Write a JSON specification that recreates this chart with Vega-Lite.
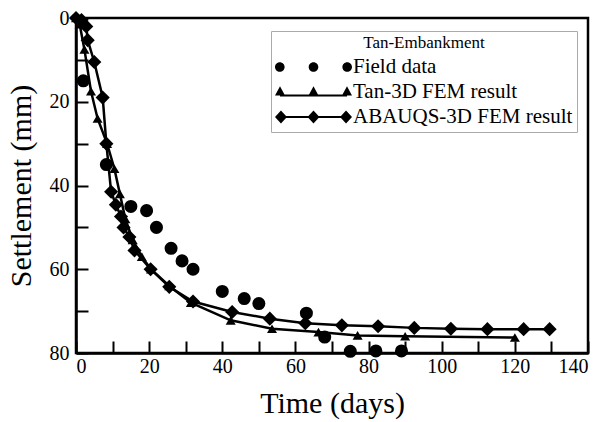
{
  "$schema": "https://vega.github.io/schema/vega-lite/v6.json",
  "width": 512,
  "height": 335,
  "autosize": {"type": "none"},
  "padding": {"left": 76, "top": 18, "right": 18, "bottom": 69},
  "background": "white",
  "config": {
    "font": "Liberation Serif",
    "view": {"stroke": "black", "strokeWidth": 2.5},
    "axis": {
      "domainColor": "black",
      "domainWidth": 2.5,
      "grid": false,
      "labelFont": "Liberation Serif",
      "labelFontSize": 20,
      "labelColor": "black",
      "titleFont": "Liberation Serif",
      "titleFontSize": 30,
      "titleFontWeight": "normal",
      "titleColor": "black"
    }
  },
  "data": {
    "values": [
      {"series": "Field data", "t": 2, "s": 15},
      {"series": "Field data", "t": 8.3, "s": 35},
      {"series": "Field data", "t": 15, "s": 45},
      {"series": "Field data", "t": 19.3, "s": 46},
      {"series": "Field data", "t": 22, "s": 50},
      {"series": "Field data", "t": 26, "s": 55},
      {"series": "Field data", "t": 29, "s": 58},
      {"series": "Field data", "t": 32, "s": 60},
      {"series": "Field data", "t": 40, "s": 65.3},
      {"series": "Field data", "t": 46, "s": 67},
      {"series": "Field data", "t": 50, "s": 68.2},
      {"series": "Field data", "t": 63, "s": 70.5},
      {"series": "Field data", "t": 68, "s": 76.2},
      {"series": "Field data", "t": 75, "s": 79.6},
      {"series": "Field data", "t": 82, "s": 79.5},
      {"series": "Field data", "t": 89, "s": 79.5},
      {"series": "Tan-3D FEM result", "t": 0, "s": 0},
      {"series": "Tan-3D FEM result", "t": 1, "s": 1.5},
      {"series": "Tan-3D FEM result", "t": 2.3, "s": 7.5},
      {"series": "Tan-3D FEM result", "t": 4.1, "s": 17.5},
      {"series": "Tan-3D FEM result", "t": 5.9, "s": 24},
      {"series": "Tan-3D FEM result", "t": 8.5, "s": 30},
      {"series": "Tan-3D FEM result", "t": 10.5, "s": 36},
      {"series": "Tan-3D FEM result", "t": 12, "s": 42},
      {"series": "Tan-3D FEM result", "t": 13.5, "s": 48},
      {"series": "Tan-3D FEM result", "t": 15.5, "s": 53},
      {"series": "Tan-3D FEM result", "t": 18, "s": 57},
      {"series": "Tan-3D FEM result", "t": 20.5, "s": 60},
      {"series": "Tan-3D FEM result", "t": 25.5, "s": 64},
      {"series": "Tan-3D FEM result", "t": 31.4, "s": 68},
      {"series": "Tan-3D FEM result", "t": 42.3, "s": 72.2},
      {"series": "Tan-3D FEM result", "t": 53.6, "s": 74.2},
      {"series": "Tan-3D FEM result", "t": 66.3, "s": 75},
      {"series": "Tan-3D FEM result", "t": 77, "s": 75.8},
      {"series": "Tan-3D FEM result", "t": 90, "s": 76},
      {"series": "Tan-3D FEM result", "t": 120, "s": 76.3},
      {"series": "ABAUQS-3D FEM result", "t": 0, "s": 0},
      {"series": "ABAUQS-3D FEM result", "t": 1.5, "s": 0.5},
      {"series": "ABAUQS-3D FEM result", "t": 2.8, "s": 2},
      {"series": "ABAUQS-3D FEM result", "t": 3.2, "s": 5.3},
      {"series": "ABAUQS-3D FEM result", "t": 5, "s": 10.5},
      {"series": "ABAUQS-3D FEM result", "t": 7.3, "s": 19},
      {"series": "ABAUQS-3D FEM result", "t": 8.3, "s": 30},
      {"series": "ABAUQS-3D FEM result", "t": 9.6, "s": 41.5},
      {"series": "ABAUQS-3D FEM result", "t": 10.9, "s": 44.6},
      {"series": "ABAUQS-3D FEM result", "t": 12.3, "s": 47.4},
      {"series": "ABAUQS-3D FEM result", "t": 13, "s": 50},
      {"series": "ABAUQS-3D FEM result", "t": 14.6, "s": 52.3},
      {"series": "ABAUQS-3D FEM result", "t": 16, "s": 55.5},
      {"series": "ABAUQS-3D FEM result", "t": 20.4, "s": 60},
      {"series": "ABAUQS-3D FEM result", "t": 25.5, "s": 64.2},
      {"series": "ABAUQS-3D FEM result", "t": 32, "s": 67.7},
      {"series": "ABAUQS-3D FEM result", "t": 42.7, "s": 70.2},
      {"series": "ABAUQS-3D FEM result", "t": 53, "s": 71.8},
      {"series": "ABAUQS-3D FEM result", "t": 62.7, "s": 72.9},
      {"series": "ABAUQS-3D FEM result", "t": 72.7, "s": 73.4},
      {"series": "ABAUQS-3D FEM result", "t": 82.6, "s": 73.6},
      {"series": "ABAUQS-3D FEM result", "t": 92.5, "s": 74},
      {"series": "ABAUQS-3D FEM result", "t": 102.5, "s": 74.2},
      {"series": "ABAUQS-3D FEM result", "t": 112.5, "s": 74.3},
      {"series": "ABAUQS-3D FEM result", "t": 122.4, "s": 74.3},
      {"series": "ABAUQS-3D FEM result", "t": 129.5, "s": 74.3}
    ]
  },
  "encoding": {
    "x": {
      "field": "t",
      "type": "quantitative",
      "scale": {"domain": [0, 140], "nice": false, "zero": false},
      "axis": {
        "title": "Time (days)",
        "values": [0, 10, 20, 30, 40, 50, 60, 70, 80, 90, 100, 110, 120, 130, 140],
        "labelExpr": "datum.value % 20 === 0 ? datum.label : ''",
        "tickColor": "#000",
        "tickWidth": 2,
        "tickSize": -12,
        "labelPadding": 15,
        "titlePadding": 12
      }
    },
    "y": {
      "field": "s",
      "type": "quantitative",
      "scale": {"domain": [0, 80], "nice": false, "zero": false, "reverse": true},
      "axis": {
        "title": "Settlement (mm)",
        "values": [0, 10, 20, 30, 40, 50, 60, 70, 80],
        "labelExpr": "datum.value % 20 === 0 ? datum.label : ''",
        "tickColor": "#000",
        "tickWidth": 2,
        "tickSize": -12,
        "labelPadding": 19,
        "titlePadding": 13
      }
    }
  },
  "layer": [
    {
      "transform": [{"filter": "datum.series !== 'Field data'"}],
      "mark": {"type": "line", "color": "black", "strokeWidth": 2.5},
      "encoding": {"detail": {"field": "series", "type": "nominal"}}
    },
    {
      "mark": {"type": "point", "filled": true, "opacity": 1, "color": "black"},
      "encoding": {
        "size": {
          "condition": [
            {"test": "datum.series === 'Tan-3D FEM result'", "value": 100},
            {"test": "datum.series === 'ABAUQS-3D FEM result'", "value": 200}
          ],
          "value": 170
        },
        "shape": {
          "field": "series",
          "type": "nominal",
          "scale": {"domain": ["Field data", "Tan-3D FEM result", "ABAUQS-3D FEM result"], "range": ["circle", "triangle-up", "diamond"]},
          "legend": null
        }
      }
    },
    {
      "mark": {"type": "point", "filled": true, "opacity": 0, "color": "black"},
      "encoding": {
        "shape": {
          "field": "series",
          "type": "nominal",
          "scale": {
            "domain": ["Field data", "Tan-3D FEM result", "ABAUQS-3D FEM result"],
            "range": [
              "M-1,0A0.125,0.125 0 1 0 -0.75,0A0.125,0.125 0 1 0 -1,0Z M-0.125,0A0.125,0.125 0 1 0 0.125,0A0.125,0.125 0 1 0 -0.125,0Z M0.75,0A0.125,0.125 0 1 0 1,0A0.125,0.125 0 1 0 0.75,0Z",
              "M-0.87,0.065L0.87,0.065L0.87,0.115L-0.87,0.115Z M-1,0.09L-0.87,-0.15L-0.74,0.09Z M-0.13,0.09L0,-0.15L0.13,0.09Z M0.74,0.09L0.87,-0.15L1,0.09Z",
              "M-0.845,-0.025L0.845,-0.025L0.845,0.025L-0.845,0.025Z M-1,0L-0.845,-0.17L-0.69,0L-0.845,0.17Z M-0.155,0L0,-0.17L0.155,0L0,0.17Z M0.69,0L0.845,-0.17L1,0L0.845,0.17Z"
            ]
          },
          "legend": {
            "title": "Tan-Embankment",
            "orient": "none",
            "legendX": 195,
            "legendY": 13,
            "padding": 4,
            "titleFont": "Liberation Serif",
            "titleFontSize": 17,
            "titleFontWeight": "normal",
            "titleColor": "black",
            "titleAnchor": "middle",
            "titlePadding": 4,
            "labelFont": "Liberation Serif",
            "labelFontSize": 21,
            "labelColor": "black",
            "labelOffset": 1,
            "labelLimit": 400,
            "symbolSize": 5929,
            "symbolOpacity": 1,
            "symbolFillColor": "black",
            "symbolStrokeColor": "black",
            "symbolStrokeWidth": 0,
            "clipHeight": 22,
            "rowPadding": 3,
            "fillColor": "white",
            "strokeColor": "#aaa"
          }
        }
      }
    }
  ],
  "resolve": {"scale": {"shape": "independent"}, "legend": {"shape": "independent"}}
}
